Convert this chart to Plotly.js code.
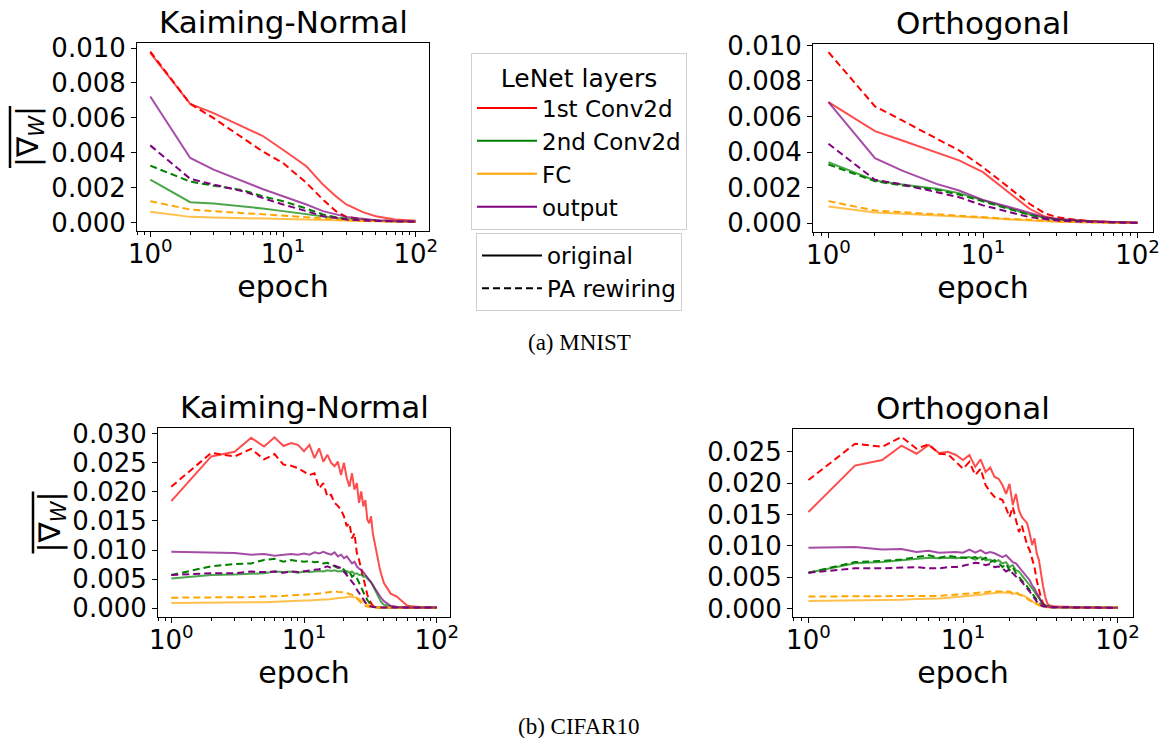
<!DOCTYPE html>
<html>
<head>
<meta charset="utf-8">
<script src="https://cdn.plot.ly/plotly-3.0.1.min.js"></script>
<style>html,body{margin:0;padding:0;background:#fff;}#chart{width:1159px;height:738px;}</style>
</head>
<body>
<div id="chart"></div>
<script>
// ---------------- DATA ----------------
const layerNames = ["1st Conv2d", "2nd Conv2d", "FC", "output"];
const layerColors = ["#ff0000", "#008000", "#ffa500", "#800080"];
const styleNames = ["original", "PA rewiring"];
const panelTitles = ["Kaiming-Normal", "Orthogonal", "Kaiming-Normal", "Orthogonal"];
const captions = ["(a) MNIST", "(b) CIFAR10"];
const xTickVals = [1, 10, 100];
const xTickText = ["10<sup>0</sup>", "10<sup>1</sup>", "10<sup>2</sup>"];
const xMinorVals = [0.8, 0.9, 2, 3, 4, 5, 6, 7, 8, 9, 20, 30, 40, 50, 60, 70, 80, 90];

// MNIST epochs
const epochsMnist = [1, 2, 3, 5, 7, 10, 15, 20, 25, 30, 40, 50, 70, 100];

// MNIST, Kaiming-Normal
const knMnistConv1Orig = [0.00973,0.0068,0.00627,0.0055,0.00497,0.00417,0.00322,0.00217,0.0015,0.00103,0.00059,0.00036,0.00017,0.0001];
const knMnistConv1PA   = [0.0098,0.0068,0.00598,0.00484,0.00408,0.00341,0.00227,0.00131,0.00065,0.00032,0.00017,0.00011,0.00008,0.00006];
const knMnistConv2Orig = [0.00246,0.00116,0.00109,0.00093,0.0008,0.00065,0.00046,0.00032,0.00025,0.0002,0.00013,0.0001,0.00006,0.00004];
const knMnistConv2PA   = [0.00326,0.00234,0.00211,0.00185,0.0015,0.00122,0.0008,0.00046,0.0003,0.00021,0.00013,0.0001,0.00006,0.00004];
const knMnistFCOrig    = [0.00061,0.00032,0.00029,0.00025,0.00021,0.00017,0.00013,0.00011,0.0001,0.00008,0.00006,0.00006,0.00004,0.00004];
const knMnistFCPA      = [0.00122,0.00074,0.00065,0.00055,0.00048,0.0004,0.0003,0.00023,0.00017,0.00013,0.0001,0.00008,0.00006,0.00004];
const knMnistOutOrig   = [0.00722,0.0037,0.00303,0.00236,0.00192,0.0015,0.00103,0.00065,0.00046,0.00032,0.00021,0.00013,0.00008,0.00006];
const knMnistOutPA     = [0.00442,0.0025,0.00217,0.00179,0.00141,0.00103,0.00065,0.00036,0.00027,0.00017,0.00011,0.00008,0.00006,0.00004];

// MNIST, Orthogonal
const orMnistConv1Orig = [0.00681,0.00518,0.00465,0.004,0.00353,0.00287,0.00165,0.00081,0.00038,0.00024,0.00015,0.0001,0.00006,0.00002];
const orMnistConv1PA   = [0.00962,0.00657,0.00578,0.00475,0.00409,0.00315,0.00193,0.00109,0.00056,0.00034,0.00019,0.00011,0.00006,0.00002];
const orMnistConv2Orig = [0.00343,0.0024,0.00218,0.00193,0.00169,0.00128,0.00081,0.00049,0.0003,0.0002,0.00013,0.00008,0.00004,0.00002];
const orMnistConv2PA   = [0.0033,0.00236,0.00212,0.00188,0.00161,0.00122,0.00077,0.00047,0.00028,0.0002,0.00013,0.00008,0.00004,0.00002];
const orMnistFCOrig    = [0.00094,0.0006,0.00053,0.00045,0.00038,0.0003,0.00021,0.00015,0.00011,0.00008,0.00006,0.00004,0.00002,0.00002];
const orMnistFCPA      = [0.00124,0.00071,0.00062,0.00049,0.00041,0.00034,0.00024,0.00019,0.00013,0.0001,0.00006,0.00004,0.00002,0.00002];
const orMnistOutOrig   = [0.00681,0.00366,0.00296,0.00221,0.00184,0.00131,0.0009,0.00056,0.00034,0.00023,0.00013,0.00009,0.00006,0.00002];
const orMnistOutPA     = [0.00447,0.00244,0.00218,0.00174,0.00146,0.001,0.00062,0.00034,0.00023,0.00015,0.00009,0.00006,0.00004,0.00002];

// CIFAR10 epochs
const epochsCifar = [1,2,3,4,5,6,7,8,9,10,11,12,13,14,15,16,17,18,19,20,21,22,23,24,25,26,27,28,29,30,31,32,33,34,35,36,37,38,39,40,45,50,60,70,80,90,100];

// CIFAR10, Kaiming-Normal
const knCifarConv1Orig = [0.0184,0.0261,0.0269,0.0293,0.0278,0.0294,0.0279,0.0284,0.0281,0.0270,0.0281,0.0258,0.0275,0.0252,0.0264,0.0250,0.0244,0.0252,0.0229,0.0250,0.0224,0.0209,0.0232,0.0204,0.0215,0.0181,0.0201,0.0175,0.0186,0.0152,0.0146,0.0158,0.0129,0.0112,0.0100,0.0083,0.0071,0.0060,0.0051,0.0043,0.0025,0.0020,0.0004,0.0002,0.0001,0.0001,0.0001];
const knCifarConv1PA   = [0.0209,0.0267,0.0261,0.0274,0.0256,0.0265,0.0247,0.0245,0.0241,0.0235,0.0229,0.0232,0.0206,0.0215,0.0192,0.0195,0.0181,0.0176,0.0169,0.0158,0.0141,0.0146,0.0120,0.0129,0.0095,0.0083,0.0066,0.0052,0.0037,0.0023,0.0014,0.00075,0.0004,0.0003,0.0002,0.00015,0.00012,0.0001,0.0001,0.0001,0.00008,0.00008,0.00008,0.00008,0.00008,0.00008,0.00008];
const knCifarConv2Orig = [0.0051,0.0057,0.0058,0.0059,0.0060,0.0063,0.0062,0.0063,0.0061,0.0063,0.0062,0.0063,0.0064,0.0063,0.0065,0.0064,0.0065,0.0063,0.0064,0.0063,0.0064,0.0061,0.0063,0.0059,0.0060,0.0057,0.0058,0.0054,0.0055,0.0051,0.0048,0.0044,0.0039,0.0033,0.0027,0.0021,0.0016,0.0011,0.0008,0.0006,0.0003,0.0002,0.0001,0.0001,0.0001,0.0001,0.0001];
const knCifarConv2PA   = [0.0057,0.0072,0.0076,0.0077,0.0083,0.0085,0.0080,0.0083,0.0081,0.0080,0.0081,0.0079,0.0080,0.0077,0.0078,0.0075,0.0072,0.0069,0.0070,0.0066,0.0060,0.0063,0.0054,0.0057,0.0052,0.0043,0.0037,0.0026,0.0020,0.0014,0.0009,0.0005,0.0003,0.0002,0.00015,0.0001,0.0001,0.0001,0.0001,0.0001,0.0001,0.0001,0.0001,0.0001,0.0001,0.0001,0.0001];
const knCifarFCOrig    = [0.0009,0.0010,0.0010,0.0010,0.0010,0.0011,0.0011,0.0012,0.0012,0.0013,0.0013,0.0014,0.0014,0.0015,0.0015,0.0016,0.0017,0.0017,0.0018,0.0018,0.0019,0.0020,0.0019,0.0019,0.0018,0.0016,0.0014,0.0011,0.0008,0.0006,0.0004,0.0003,0.0002,0.00015,0.0001,0.0001,0.0001,0.0001,0.0001,0.0001,0.0001,0.0001,0.0001,0.0001,0.0001,0.0001,0.0001];
const knCifarFCPA      = [0.0018,0.0018,0.0018,0.0019,0.0020,0.0020,0.0021,0.0022,0.0022,0.0023,0.0024,0.0024,0.0025,0.0026,0.0027,0.0028,0.0029,0.0028,0.0028,0.0027,0.0026,0.0025,0.0023,0.0020,0.0017,0.0013,0.0009,0.0006,0.0004,0.0003,0.0002,0.00015,0.0001,0.0001,0.0001,0.0001,0.0001,0.0001,0.0001,0.0001,0.0001,0.0001,0.0001,0.0001,0.0001,0.0001,0.0001];
const knCifarOutOrig   = [0.0097,0.0096,0.0095,0.0092,0.0093,0.0090,0.0091,0.0093,0.0092,0.0094,0.0092,0.0096,0.0094,0.0097,0.0094,0.0092,0.0096,0.0089,0.0092,0.0086,0.0089,0.0083,0.0077,0.0080,0.0072,0.0068,0.0066,0.0062,0.0058,0.0054,0.0049,0.0045,0.0040,0.0035,0.0030,0.0026,0.0022,0.0018,0.0015,0.0012,0.0004,0.0002,0.0001,0.0001,0.0001,0.0001,0.0001];
const knCifarOutPA     = [0.0057,0.0060,0.0060,0.0063,0.0062,0.0063,0.0061,0.0063,0.0062,0.0063,0.0065,0.0066,0.0067,0.0069,0.0072,0.0069,0.0073,0.0071,0.0069,0.0063,0.0057,0.0052,0.0046,0.0040,0.0032,0.0026,0.0020,0.0014,0.0010,0.0006,0.0004,0.0003,0.0002,0.00015,0.0001,0.0001,0.0001,0.0001,0.0001,0.0001,0.0001,0.0001,0.0001,0.0001,0.0001,0.0001,0.0001];

// CIFAR10, Orthogonal
const orCifarConv1Orig = [0.0154,0.0228,0.0237,0.0260,0.0247,0.0261,0.0248,0.0250,0.0245,0.0237,0.0245,0.0226,0.0238,0.0218,0.0225,0.0210,0.0207,0.0197,0.0183,0.0199,0.0165,0.0183,0.0157,0.0146,0.0141,0.0136,0.0120,0.0101,0.0112,0.0088,0.0077,0.0051,0.0035,0.0019,0.0009,0.0005,0.0004,0.0004,0.0003,0.0003,0.00025,0.0002,0.00015,0.0001,0.0001,0.0001,0.0001];
const orCifarConv1PA   = [0.0205,0.0263,0.0258,0.0274,0.0255,0.0262,0.0247,0.0246,0.0234,0.0223,0.0234,0.0213,0.0223,0.0197,0.0186,0.0178,0.0176,0.0173,0.0160,0.0146,0.0162,0.0141,0.0122,0.0133,0.0114,0.0101,0.0093,0.0077,0.0066,0.0045,0.0029,0.0016,0.0008,0.0005,0.0004,0.0003,0.0003,0.0002,0.0002,0.0002,0.00015,0.0001,0.0001,0.0001,0.0001,0.0001,0.0001];
const orCifarConv2Orig = [0.0057,0.0072,0.0074,0.0077,0.0080,0.0081,0.0080,0.0081,0.0080,0.0081,0.0082,0.0078,0.0082,0.0077,0.0078,0.0074,0.0077,0.0072,0.0074,0.0066,0.0069,0.0061,0.0059,0.0053,0.0048,0.0043,0.0037,0.0032,0.0027,0.0021,0.0016,0.0011,0.0007,0.0005,0.0004,0.0003,0.0003,0.0002,0.0002,0.0002,0.00015,0.0001,0.0001,0.0001,0.0001,0.0001,0.0001];
const orCifarConv2PA   = [0.0057,0.0074,0.0076,0.0078,0.0082,0.0085,0.0081,0.0084,0.0082,0.0081,0.0080,0.0082,0.0077,0.0081,0.0074,0.0077,0.0073,0.0066,0.0071,0.0061,0.0066,0.0056,0.0051,0.0045,0.0040,0.0035,0.0029,0.0024,0.0019,0.0013,0.0009,0.0006,0.0004,0.0003,0.0003,0.0002,0.0002,0.0002,0.0002,0.0002,0.00015,0.0001,0.0001,0.0001,0.0001,0.0001,0.0001];
const orCifarFCOrig    = [0.0012,0.0013,0.0013,0.0014,0.0015,0.0015,0.0016,0.0017,0.0018,0.0019,0.0020,0.0021,0.0022,0.0023,0.0024,0.0025,0.0026,0.0026,0.0025,0.0025,0.0023,0.0024,0.0022,0.0021,0.0020,0.0017,0.0014,0.0011,0.0009,0.0008,0.0006,0.0005,0.0004,0.0003,0.0003,0.0002,0.0002,0.0002,0.0002,0.0002,0.00015,0.0001,0.0001,0.0001,0.0001,0.0001,0.0001];
const orCifarFCPA      = [0.0019,0.0019,0.0019,0.0019,0.0019,0.0020,0.0020,0.0021,0.0022,0.0023,0.0023,0.0024,0.0025,0.0026,0.0027,0.0027,0.0028,0.0027,0.0028,0.0027,0.0024,0.0026,0.0023,0.0021,0.0019,0.0016,0.0013,0.0011,0.0008,0.0006,0.0005,0.0004,0.0003,0.0003,0.0002,0.0002,0.0002,0.0002,0.0002,0.0002,0.00015,0.0001,0.0001,0.0001,0.0001,0.0001,0.0001];
const orCifarOutOrig   = [0.0097,0.0098,0.0094,0.0095,0.0090,0.0092,0.0089,0.0090,0.0090,0.0089,0.0094,0.0089,0.0093,0.0088,0.0090,0.0088,0.0085,0.0082,0.0085,0.0080,0.0074,0.0072,0.0066,0.0061,0.0056,0.0050,0.0045,0.0037,0.0032,0.0024,0.0019,0.0011,0.0006,0.0004,0.0003,0.0003,0.0002,0.0002,0.0002,0.0002,0.00015,0.0001,0.0001,0.0001,0.0001,0.0001,0.0001];
const orCifarOutPA     = [0.0057,0.0064,0.0064,0.0065,0.0066,0.0064,0.0064,0.0066,0.0066,0.0068,0.0070,0.0073,0.0072,0.0069,0.0071,0.0066,0.0067,0.0064,0.0059,0.0062,0.0056,0.0051,0.0048,0.0043,0.0037,0.0032,0.0027,0.0021,0.0016,0.0011,0.0007,0.0005,0.0003,0.0003,0.0002,0.0002,0.0002,0.0002,0.0002,0.0002,0.00015,0.0001,0.0001,0.0001,0.0001,0.0001,0.0001];

// ---------------- BUILD ----------------
const FONT = "DejaVu Sans, Verdana, sans-serif";
const SERIF = "Liberation Serif, Times New Roman, serif";
const panels = [
  {x: epochsMnist, orig: [knMnistConv1Orig, knMnistConv2Orig, knMnistFCOrig, knMnistOutOrig], pa: [knMnistConv1PA, knMnistConv2PA, knMnistFCPA, knMnistOutPA]},
  {x: epochsMnist, orig: [orMnistConv1Orig, orMnistConv2Orig, orMnistFCOrig, orMnistOutOrig], pa: [orMnistConv1PA, orMnistConv2PA, orMnistFCPA, orMnistOutPA]},
  {x: epochsCifar, orig: [knCifarConv1Orig, knCifarConv2Orig, knCifarFCOrig, knCifarOutOrig], pa: [knCifarConv1PA, knCifarConv2PA, knCifarFCPA, knCifarOutPA]},
  {x: epochsCifar, orig: [orCifarConv1Orig, orCifarConv2Orig, orCifarFCOrig, orCifarOutOrig], pa: [orCifarConv1PA, orCifarConv2PA, orCifarFCPA, orCifarOutPA]}
];

const traces = [];
panels.forEach((p, pi) => {
  const xa = pi === 0 ? 'x' : 'x' + (pi + 1);
  const ya = pi === 0 ? 'y' : 'y' + (pi + 1);
  for (let li = 0; li < 4; li++) {
    traces.push({type: 'scatter', mode: 'lines', x: p.x, y: p.orig[li], xaxis: xa, yaxis: ya,
      line: {color: layerColors[li], width: 2}, opacity: 0.7, showlegend: false, hoverinfo: 'skip'});
    traces.push({type: 'scatter', mode: 'lines', x: p.x, y: p.pa[li], xaxis: xa, yaxis: ya,
      line: {color: layerColors[li], width: 2, dash: '7px,4px'}, showlegend: false, hoverinfo: 'skip'});
  }
});
// legend entries
layerNames.forEach((n, i) => traces.push({type: 'scatter', mode: 'lines', x: [null], y: [null], name: n,
  line: {color: layerColors[i], width: 2}, legend: 'legend', showlegend: true}));
traces.push({type: 'scatter', mode: 'lines', x: [null], y: [null], name: styleNames[0], line: {color: 'black', width: 2}, legend: 'legend2', showlegend: true});
traces.push({type: 'scatter', mode: 'lines', x: [null], y: [null], name: styleNames[1], line: {color: 'black', width: 2, dash: '7px,4px'}, legend: 'legend2', showlegend: true});

const W = 1159, H = 738;
function dx(a, b) { return [a / W, b / W]; }
function dy(top, bottom) { return [1 - bottom / H, 1 - top / H]; }

const boxes = [
  {x: dx(137, 429), y: dy(43, 231), yr: [-0.00049, 0.01029], dt: 0.002},
  {x: dx(813, 1153), y: dy(44, 231.7), yr: [-0.00048, 0.01008], dt: 0.002},
  {x: dx(158, 450), y: dy(428.3, 616.7), yr: [-0.00147, 0.03094], dt: 0.005},
  {x: dx(793, 1133), y: dy(429, 617), yr: [-0.00137, 0.02865], dt: 0.005}
];

const layout = {
  width: W, height: H,
  margin: {l: 0, r: 0, t: 0, b: 0},
  paper_bgcolor: 'white', plot_bgcolor: 'white',
  font: {family: FONT, color: 'black'},
  showlegend: true,
  legend: {x: 471 / W, y: 1 - 53 / H, xanchor: 'left', yanchor: 'top', bgcolor: 'white',
    bordercolor: '#d0d0d0', borderwidth: 1, font: {size: 23, family: FONT},
    title: {text: 'LeNet layers', side: 'top center', font: {size: 25, family: FONT}},
    itemwidth: 60, tracegroupgap: 0},
  legend2: {x: 476 / W, y: 1 - 233 / H, xanchor: 'left', yanchor: 'top', bgcolor: 'white',
    bordercolor: '#d0d0d0', borderwidth: 1, font: {size: 23, family: FONT}, itemwidth: 60},
  annotations: [],
  shapes: []
};

boxes.forEach((b, i) => {
  const s = i === 0 ? '' : String(i + 1);
  layout['xaxis' + s] = {
    domain: b.x, anchor: 'y' + s, type: 'log', range: [-0.1, 2.1],
    tickmode: 'array', tickvals: xTickVals, ticktext: xTickText,
    ticks: 'outside', ticklen: 5, tickwidth: 1, tickcolor: 'black',
    ticklabeloverflow: 'allow', ticklabelstandoff: -5,
    showline: true, mirror: true, linecolor: 'black', linewidth: 1,
    showgrid: false, zeroline: false,
    tickfont: {size: 26, family: FONT, color: 'black'},
    minor: {tickmode: 'array', tickvals: xMinorVals, ticks: 'outside', ticklen: 3, tickwidth: 1, tickcolor: 'black', showgrid: false},
    title: {text: 'epoch', font: {size: 30, family: FONT, color: 'black'}, standoff: 0}
  };
  layout['yaxis' + s] = {
    domain: b.y, anchor: 'x' + s, range: b.yr, tick0: 0, dtick: b.dt, tickformat: '.3f',
    ticks: 'outside', ticklen: 5, tickwidth: 1, tickcolor: 'black',
    showline: true, mirror: true, linecolor: 'black', linewidth: 1,
    showgrid: false, zeroline: false,
    tickfont: {size: 26, family: FONT, color: 'black'}
  };
  layout.annotations.push({text: panelTitles[i], xref: 'paper', yref: 'paper',
    x: (b.x[0] + b.x[1]) / 2, y: b.y[1], xanchor: 'center', yanchor: 'bottom', yshift: 1,
    showarrow: false, font: {size: 31, family: FONT, color: 'black'}});
});

// y-axis labels (mean |grad W| with overline) for the left panels
[{cx: 29, bar: 10, box: boxes[0]}, {cx: 51, bar: 33, box: boxes[2]}].forEach(o => {
  const yc = (o.box.y[0] + o.box.y[1]) / 2;
  layout.annotations.push({text: '|\u2207<sub><i>W</i></sub>|', xref: 'paper', yref: 'paper',
    x: o.cx / W, y: yc, xanchor: 'center', yanchor: 'middle', textangle: -90, showarrow: false,
    font: {size: 30, family: FONT, color: 'black'}});
  layout.shapes.push({type: 'line', xref: 'paper', yref: 'paper', x0: o.bar / W, x1: o.bar / W,
    y0: yc - 31 / H, y1: yc + 31 / H, line: {color: 'black', width: 2.5}});
});

layout.annotations.push({text: captions[0], xref: 'paper', yref: 'paper', x: 579 / W, y: 1 - 342 / H,
  xanchor: 'center', yanchor: 'middle', showarrow: false, font: {size: 23, family: SERIF, color: 'black'}});
layout.annotations.push({text: captions[1], xref: 'paper', yref: 'paper', x: 579 / W, y: 1 - 726 / H,
  xanchor: 'center', yanchor: 'middle', showarrow: false, font: {size: 23, family: SERIF, color: 'black'}});

Plotly.newPlot('chart', traces, layout, {staticPlot: true, displayModeBar: false});
</script>
</body>
</html>
